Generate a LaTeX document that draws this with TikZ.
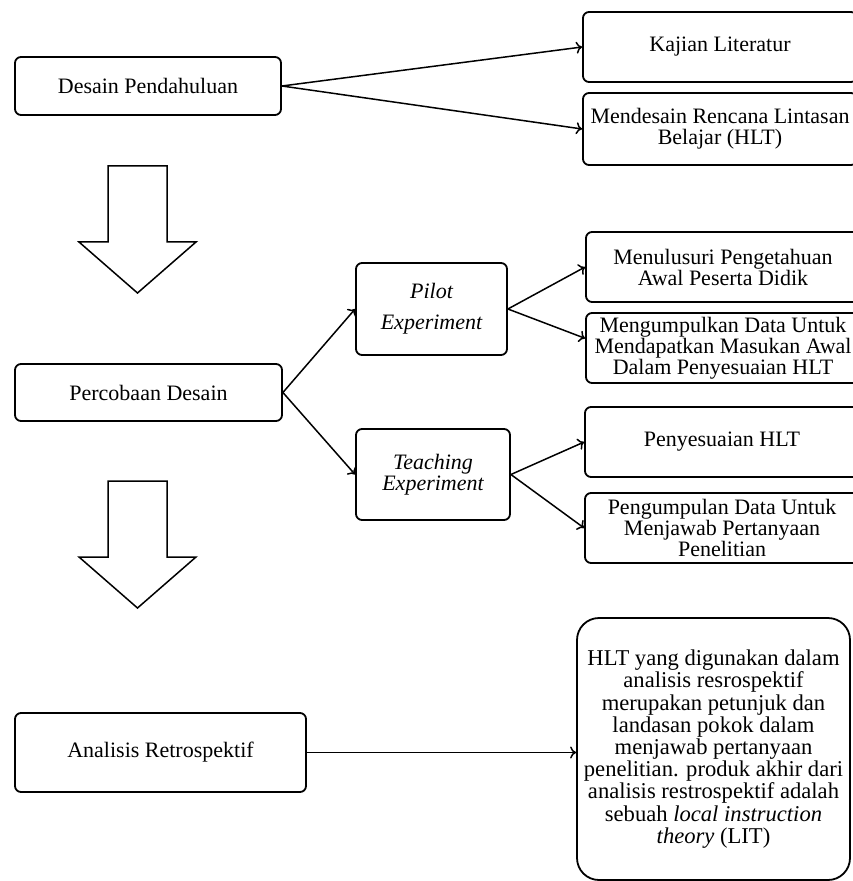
\documentclass[tikz,border=0pt]{standalone}
\usepackage{fontspec}
\setmainfont{Liberation Serif}
\usetikzlibrary{arrows.meta}
\tikzset{
  box/.style = {align=center, inner sep=2pt, draw=black, line width=0.9pt,
    rounded corners=3pt, font=\fontsize{11}{10.5}\selectfont},
  stage/.style = {box, minimum width=133pt, minimum height=29pt},
  sub/.style = {box, minimum width=137pt, minimum height=35pt},
  expbox/.style = {box, minimum width=76pt, minimum height=46pt,
    font=\fontsize{11}{10.5}\selectfont\itshape},
  litbox/.style = {box, rounded corners=11pt,
    minimum width=136.5pt, minimum height=131pt,
    font=\fontsize{11.3}{11.1}\selectfont}
}
\begin{document}
\begin{tikzpicture}[x=0.5pt, y=-0.5pt, >={To[length=3pt,width=6pt]}, line width=0.75pt]
\useasboundingbox (0,0) rectangle (852,881);

\node [stage] (desain) at (148,86) {Desain Pendahuluan};
\node [sub] (kajian) at (720,47) {Kajian Literatur};
\node [sub, minimum height=36pt] (hlt) at (720,129) {Mendesain Rencana Lintasan\\Belajar (HLT)};

\node [stage, minimum width=133.5pt, minimum height=28.5pt] (percobaan) at (148.5,392.5) {Percobaan Desain};
\node [expbox, minimum width=75.5pt] (pilot) at (431.5,309) {Pilot\\[5pt]Experiment};
\node [expbox, minimum width=77pt, minimum height=45.5pt] (teaching) at (433,474.5) {Teaching\\Experiment};
\node [sub] (menelusuri) at (723,267) {Menulusuri Pengetahuan\\Awal Peserta Didik};
\node [sub] (mengumpulkan) at (723,348) {Mengumpulkan Data Untuk\\Mendapatkan Masukan Awal\\Dalam Penyesuaian HLT};
\node [sub] (penyesuaian) at (722,442) {Penyesuaian HLT};
\node [sub] (pengumpulan) at (722,528) {Pengumpulan Data Untuk\\Menjawab Pertanyaan\\Penelitian};

\node [stage, minimum width=145.5pt, minimum height=39.5pt] (analisis) at (160.5,752.5) {Analisis Retrospektif};
\node [litbox] (lit) at (713.5,749) {HLT yang digunakan dalam\\analisis resrospektif\\merupakan petunjuk dan\\landasan pokok dalam\\menjawab pertanyaan\\penelitian. produk akhir dari\\analisis restrospektif adalah\\sebuah \textit{local instruction}\\\textit{theory} (LIT)};

\draw [->] (desain.east) -- (kajian.west);
\draw [->] (desain.east) -- (hlt.west);
\draw [->] (percobaan.east) -- (pilot.west);
\draw [->] (percobaan.east) -- (teaching.west);
\draw [->] (pilot.east) -- (menelusuri.west);
\draw [->] (pilot.east) -- (mengumpulkan.176);
\draw [->] (teaching.east) -- (penyesuaian.west);
\draw [->] (teaching.east) -- (pengumpulan.west);
\draw [->] (analisis.east) -- (analisis.east -| lit.west);

\foreach \t in {166,481}
  \draw (108,\t) -- (167,\t) -- (167,\t+76) -- (196,\t+76) -- (137.5,\t+127)
    -- (79,\t+76) -- (108,\t+76) -- cycle;
\end{tikzpicture}
\end{document}
